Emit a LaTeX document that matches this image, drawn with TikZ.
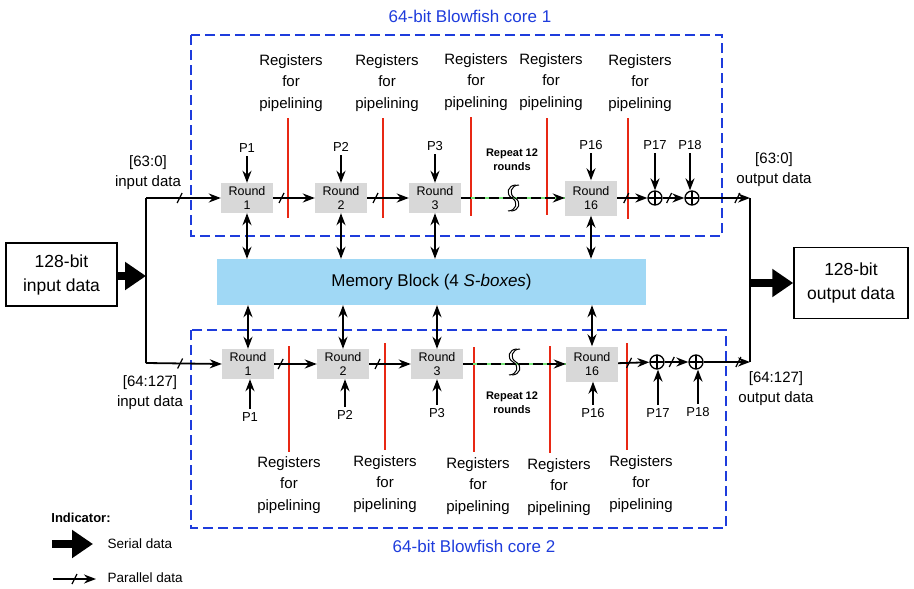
\documentclass[tikz,border=0pt]{standalone}
\usepackage{fontspec}
\setmainfont{Liberation Sans}
\usetikzlibrary{arrows,arrows.meta,positioning}
\definecolor{coreblue}{RGB}{30,60,220}
\definecolor{memblue}{RGB}{160,216,245}
\definecolor{roundgray}{RGB}{216,216,216}
\definecolor{regred}{RGB}{232,40,20}
\definecolor{dashgreen}{RGB}{120,230,120}

\begin{document}
\begin{tikzpicture}[x=1pt, y=-1pt, >={Stealth[length=12pt,width=9pt]},
    rnd/.style={fill=roundgray, minimum width=52pt, minimum height=30pt, inner sep=0pt, align=center, font=\fontsize{12.5}{14}\selectfont},
    core/.style={draw=coreblue, line width=2.8pt, dash pattern=on 10pt off 5pt},
    title/.style={text=coreblue, font=\fontsize{17}{20}\selectfont},
    reg/.style={align=center, font=\fontsize{15}{21.5}\selectfont},
    regline/.style={draw=regred, line width=1.5pt},
    pin/.style={font=\fontsize{13}{15}\selectfont},
    lbl/.style={align=center, font=\fontsize{15}{20}\selectfont},
    big/.style={draw, line width=1.5pt, align=center, minimum width=111pt, minimum height=63pt, font=\fontsize{17.5}{24}\selectfont},
    xor/.style={circle, draw, line width=1.3pt, inner sep=0pt, minimum size=14pt,
        path picture={\draw[line width=1.3pt] (path picture bounding box.north) -- (path picture bounding box.south)
                                              (path picture bounding box.west) -- (path picture bounding box.east);}},
    bus/.style={->, line width=1.8pt},
    serial/.style={-{Triangle[length=21pt,width=27pt]}, line width=7.5pt},
    rep/.style={align=center, font=\bfseries\fontsize{11}{14}\selectfont},
    cut/.pic={\draw[-, line width=1.2pt] (-2.5,5) -- (2.5,-5);},
    wave/.pic={\foreach \d in {0,3} {\draw[-, line width=1pt] (4+\d,-13) .. controls (-4+\d,-13) and (-7+\d,-4) .. (0+\d,0) .. controls (7+\d,4) and (4+\d,13) .. (-4+\d,13);}}]
    \useasboundingbox (0,0) rectangle (914,589);

    % Cores
    \draw[core] (191,35) rectangle (722,236);
    \draw[core] (191,330) rectangle (726,528);
    \node[title] (t1) at (470,16) {64-bit Blowfish core 1};
    \node[title] (t2) at (474,546) {64-bit Blowfish core 2};

    % Memory
    \node[fill=memblue, minimum width=429pt, minimum height=46pt, font=\fontsize{17}{20}\selectfont] (mem) at (431.5,282) {Memory Block (4 \textit{S-boxes})};

    % In / out
    \node[big] (in) at (61.5,274.5) {128-bit\\input data};
    \node[big, minimum width=114pt, minimum height=71pt] (out) at (851,283) {128-bit\\output data};
    \coordinate (split) at (146,276);
    \coordinate (itop) at (146,198);
    \coordinate (ibot) at (146,363);
    \coordinate (join) at (750,283);
    \coordinate (otop) at (750,198);
    \coordinate (obot) at (750,362);

    % Core 1 rounds
    \node[rnd] (ra1) at (247,198) {Round\\1};
    \node[rnd] (ra2) at (341,198) {Round\\2};
    \node[rnd] (ra3) at (435,198) {Round\\3};
    \node[rnd, minimum height=35pt] (ra16) at (591,198) {Round\\16};
    \node[xor] (xa1) at (655,198) {};
    \node[xor] (xa2) at (692,198) {};
    \node[pin] (pa1) at (247,148) {P1};
    \node[pin] (pa2) at (341,147) {P2};
    \node[pin] (pa3) at (435,146) {P3};
    \node[pin] (pa16) at (591,145) {P16};
    \node[pin] (pa17) at (655,145) {P17};
    \node[pin] (pa18) at (690,145) {P18};

    % Core 2 rounds
    \node[rnd] (rb1) at (248,364) {Round\\1};
    \node[rnd] (rb2) at (343,364) {Round\\2};
    \node[rnd] (rb3) at (437,364) {Round\\3};
    \node[rnd, minimum height=35pt] (rb16) at (592,364) {Round\\16};
    \node[xor] (xb1) at (657,362) {};
    \node[xor] (xb2) at (696,362) {};
    \node[pin] (pb1) at (250,417) {P1};
    \node[pin] (pb2) at (345,415) {P2};
    \node[pin] (pb3) at (437,413) {P3};
    \node[pin] (pb16) at (593,413) {P16};
    \node[pin] (pb17) at (658,413) {P17};
    \node[pin] (pb18) at (698,412) {P18};

    % Pipeline registers
    \foreach \x/\y in {291/83, 387/83, 476/82, 551/82, 640/83, 289/485, 385/484, 478/486, 559/487, 641/484}
        \node[reg] at (\x,\y) {Registers\\for\\pipelining};
    \foreach \x/\a/\b in {288/118/218, 383/118/218, 471/117/216, 547/118/215, 628/118/219,
                          289/346/452, 385/343/450, 474/347/452, 550/346/453, 627/343/450}
        \draw[regline] (\x,\a) -- (\x,\b);

    % Labels
    \node[lbl] (ia) at (148,173) {[63:0]\\input data};
    \node[lbl] (ib) at (150,393) {[64:127]\\input data};
    \node[lbl] (oa) at (774,170) {[63:0]\\output data};
    \node[lbl] (ob) at (776,389) {[64:127]\\output data};
    \node[rep] (rpa) at (512,160) {Repeat 12\\rounds};
    \node[rep] (rpb) at (512,403) {Repeat 12\\rounds};

    % Edges
    \draw[serial] (in.east |- split) -- (split);
    \draw[line width=1.8pt] (itop) -- (ibot);
    \draw[bus] (itop) -- pic[pos=0.45]{cut} (ra1.west);
    \draw[bus] (ibot) -- pic[pos=0.45]{cut} (rb1.west);
    \draw[bus] (ra1) -- pic[pos=0.2]{cut} (ra2);
    \draw[bus] (ra2) -- pic[pos=0.2]{cut} (ra3);
    \draw[dashgreen, line width=1.8pt] (ra3) -- (ra16);
    \draw[bus, dash pattern=on 10pt off 4pt] (ra3) -- (ra16);
    \draw[bus] (ra16) -- pic[pos=0.3]{cut} (xa1);
    \draw[bus] (xa1) -- pic[pos=0.3]{cut} (xa2);
    \draw[bus] (xa2) -- pic[pos=0.75]{cut} (otop);
    \draw[bus] (rb1) -- pic[pos=0.15]{cut} (rb2);
    \draw[bus] (rb2) -- pic[pos=0.2]{cut} (rb3);
    \draw[dashgreen, line width=1.8pt] (rb3) -- (rb16);
    \draw[bus, dash pattern=on 10pt off 4pt] (rb3) -- (rb16);
    \draw[bus] (rb16) -- pic[pos=0.35]{cut} (xb1);
    \draw[bus] (xb1) -- pic[pos=0.3]{cut} (xb2);
    \draw[bus] (xb2) -- pic[pos=0.75]{cut} (obot);
    \draw[line width=1.8pt] (otop) -- (obot);
    \draw[serial] (join) -- (out.west |- join);
    \pic at (512,198) {wave};
    \pic at (513,362) {wave};

    % Subkeys
    \foreach \p/\r in {pa1/ra1, pa2/ra2, pa3/ra3, pa16/ra16, pa17/xa1, pa18/xa2}
        \draw[bus] (\p.south) -- (\p.south |- \r.north);
    \foreach \p/\r in {pb1/rb1, pb2/rb2, pb3/rb3, pb16/rb16, pb17/xb1, pb18/xb2}
        \draw[bus] (\p.north) -- (\p.north |- \r.south);
    % Memory ports
    \foreach \r in {ra1, ra2, ra3, ra16}
        \draw[<->, line width=1.8pt] (\r.south) -- (\r.south |- mem.north);
    \foreach \r in {rb1, rb2, rb3, rb16}
        \draw[<->, line width=1.8pt] (\r.north |- mem.south) -- (\r.north);

    % Indicator
    \node[font=\bfseries\fontsize{13}{15}\selectfont] (ind) at (81,518) {Indicator:};
    \coordinate (sa) at (52,544);
    \coordinate (sb) at (93,544);
    \coordinate (pa) at (53,579);
    \coordinate (pb) at (96,579);
    \draw[serial] (sa) -- (sb);
    \draw[bus] (pa) -- pic[pos=0.5]{cut} (pb);
    \node[anchor=west, font=\fontsize{13.5}{15}\selectfont] (ser) at (104,544) {Serial data};
    \node[anchor=west, font=\fontsize{13.5}{15}\selectfont] (par) at (104,578) {Parallel data};
\end{tikzpicture}
\end{document}
